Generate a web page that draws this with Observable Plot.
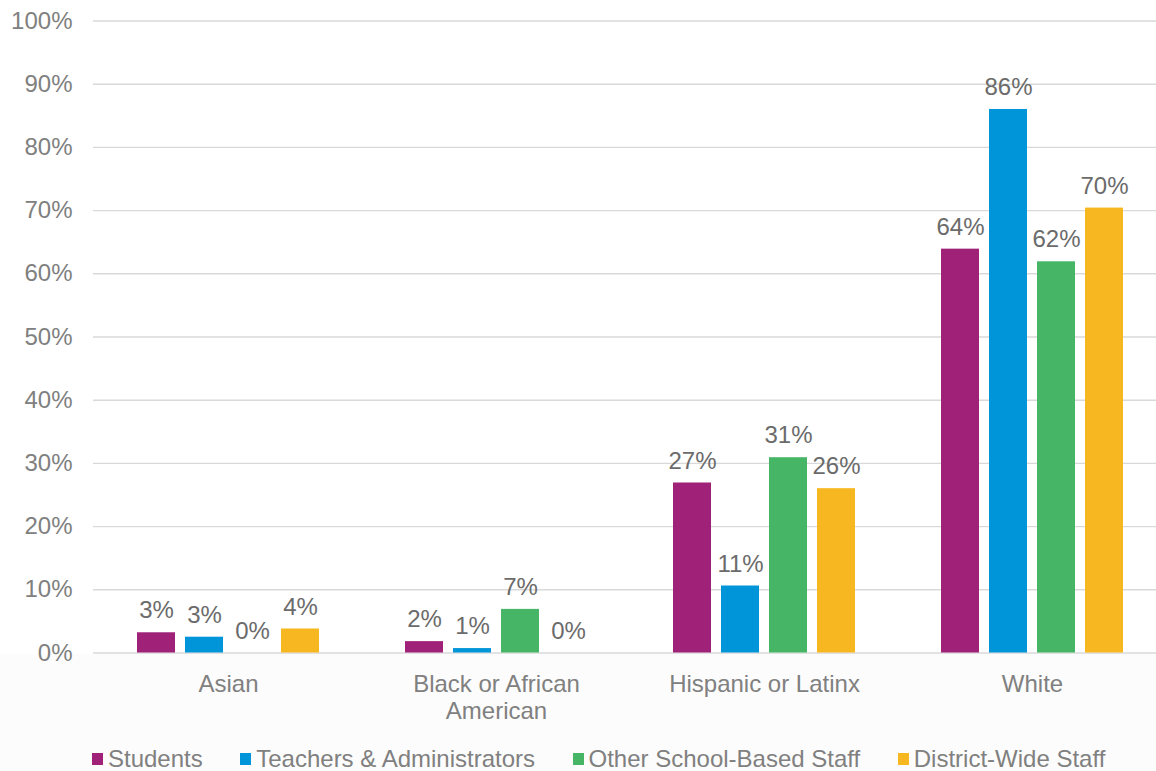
<!DOCTYPE html>
<html><head><meta charset="utf-8">
<script src="https://cdn.jsdelivr.net/npm/d3@7"></script>
<script src="https://cdn.jsdelivr.net/npm/@observablehq/plot@0.6"></script>
<style>
html,body{margin:0;padding:0;background:#fff;overflow:hidden;width:1156px;height:771px;}
#wrap{position:relative;width:1156px;height:771px;font-family:"Liberation Sans",Arial,sans-serif;overflow:hidden;}
#lower{position:absolute;left:0;top:654px;width:1156px;height:117px;background:#fcfcfc;}
.layer{position:absolute;left:0;top:0;}
#legend{position:absolute;left:92px;top:747px;display:flex;align-items:center;gap:37.5px;font-size:24px;color:#808080;line-height:24px;white-space:nowrap;}
.item{display:flex;align-items:center;}
.sw{width:11px;height:12px;margin-right:5px;}
</style></head>
<body>
<div id="wrap"><div id="lower"></div><div id="grid" class="layer"></div><div id="chart" class="layer"></div><div id="legend"></div></div>
<script>
const categories = ["Asian", "Black or African American", "Hispanic or Latinx", "White"];
const categoryLabels = ["Asian", "Black or African\nAmerican", "Hispanic or Latinx", "White"];
const series = ["Students", "Teachers & Administrators", "Other School-Based Staff", "District-Wide Staff"];
const students = [3.2, 1.8, 26.9, 63.9];
const teachers = [2.5, 0.7, 10.6, 86.0];
const otherStaff = [0, 6.9, 30.9, 61.9];
const districtStaff = [3.8, 0, 26.0, 70.4];
const colors = ["#9F2278", "#0095D8", "#46B566", "#F7B720"];
const yTicks = [0, 10, 20, 30, 40, 50, 60, 70, 80, 90, 100];

const seriesValues = [students, teachers, otherStaff, districtStaff];
const data = [];
categories.forEach((c, ci) => series.forEach((s, si) => data.push({category: c, series: s, value: seriesValues[si][ci]})));
const labelOf = new Map(categories.map((c, i) => [c, categoryLabels[i]]));

const common = {
  width: 1170, height: 725,
  marginLeft: 93, marginRight: 4, marginTop: 20.5, marginBottom: 72.5,
  style: {background: "transparent", maxWidth: "none", fontFamily: "'Liberation Sans', Arial, sans-serif", fontSize: "24px", color: "#808080", overflow: "visible"}
};

// Background layer: gridlines and y axis spanning the full plot width
const grid = Plot.plot({
  ...common,
  y: {domain: [0, 100], label: null},
  marks: [
    Plot.ruleY(yTicks, {stroke: "#d9d9d9", strokeWidth: 1.4}),
    Plot.axisY(yTicks, {tickSize: 0, tickPadding: 21, tickFormat: d => d + "%", fontSize: 24, label: null})
  ]
});
document.getElementById("grid").appendChild(grid);

// Foreground layer: grouped bars, value labels and category axis
const chart = Plot.plot({
  ...common,
  fx: {domain: categories, paddingInner: 0.306, paddingOuter: 0.153, label: null},
  x: {domain: series, paddingInner: 0.2, paddingOuter: 0, axis: null},
  y: {domain: [0, 100], label: null, axis: null},
  color: {domain: series, range: colors},
  marks: [
    Plot.barY(data, {fx: "category", x: "series", y: "value", fill: "series"}),
    Plot.text(data, {fx: "category", x: "series", y: "value", text: d => Math.round(d.value) + "%", dy: -22, fill: "#6b6b6b", fontSize: 24}),
    Plot.axisFx({anchor: "bottom", tickSize: 0, tickPadding: 20, tickFormat: d => labelOf.get(d), fontSize: 24, lineHeight: 1.12, label: null})
  ]
});
document.getElementById("chart").appendChild(chart);

const legend = document.getElementById("legend");
series.forEach((s, i) => {
  const item = document.createElement("div"); item.className = "item";
  const sw = document.createElement("span"); sw.className = "sw"; sw.style.background = colors[i];
  const t = document.createElement("span"); t.textContent = s;
  item.appendChild(sw); item.appendChild(t); legend.appendChild(item);
});
</script>
</body></html>
